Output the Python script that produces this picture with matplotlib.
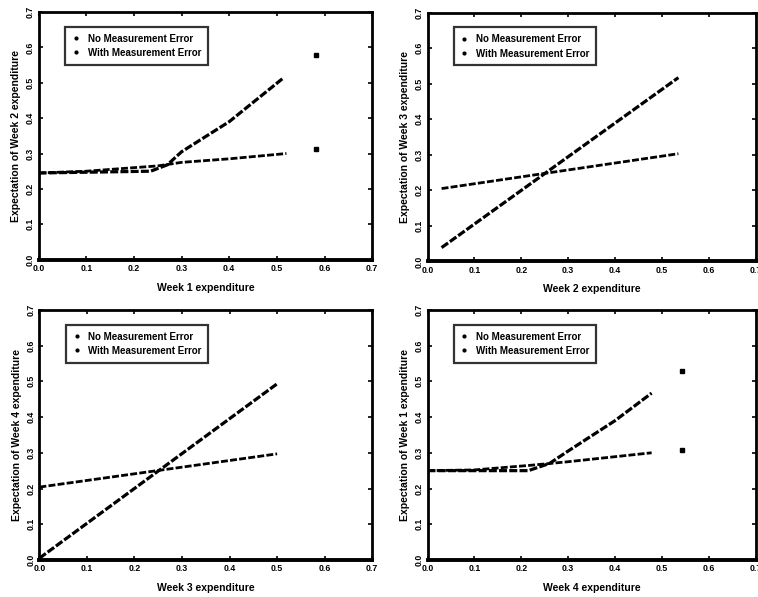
import matplotlib
matplotlib.use("Agg")
import matplotlib.pyplot as plt
from matplotlib.lines import Line2D

plt.rcParams["font.family"] = ["Liberation Sans", "DejaVu Sans"]
plt.rcParams["font.weight"] = "bold"

# Panel 1: week 1 -> week 2
p1_flat_x = [0.0, 0.10, 0.25, 0.30, 0.40, 0.52]
p1_flat_y = [0.245, 0.25, 0.265, 0.275, 0.285, 0.30]
p1_steep_x = [0.0, 0.235, 0.27, 0.30, 0.40, 0.515]
p1_steep_y = [0.245, 0.25, 0.268, 0.305, 0.39, 0.515]
p1_extra_x = [0.583, 0.583]
p1_extra_y = [0.579, 0.313]

# Panel 2: week 2 -> week 3
p2_flat_x = [0.03, 0.535]
p2_flat_y = [0.205, 0.303]
p2_steep_x = [0.03, 0.535]
p2_steep_y = [0.039, 0.517]

# Panel 3: week 3 -> week 4
p3_flat_x = [0.0, 0.50]
p3_flat_y = [0.204, 0.297]
p3_steep_x = [0.0, 0.50]
p3_steep_y = [0.005, 0.493]

# Panel 4: week 4 -> week 1
p4_flat_x = [0.0, 0.10, 0.22, 0.30, 0.478]
p4_flat_y = [0.25, 0.252, 0.265, 0.275, 0.30]
p4_steep_x = [0.0, 0.215, 0.26, 0.30, 0.40, 0.478]
p4_steep_y = [0.25, 0.25, 0.27, 0.305, 0.39, 0.467]
p4_extra_x = [0.543, 0.543]
p4_extra_y = [0.528, 0.308]

ticks = [0.0, 0.1, 0.2, 0.3, 0.4, 0.5, 0.6, 0.7]
tick_labels = ["0.0", "0.1", "0.2", "0.3", "0.4", "0.5", "0.6", "0.7"]
legend_labels = ["No Measurement Error", "With Measurement Error"]

panels = [
    ([0.051, 0.565, 0.440, 0.415], p1_flat_x, p1_flat_y, p1_steep_x, p1_steep_y,
     (p1_extra_x, p1_extra_y), "Week 1 expenditure", "Expectation of Week 2 expenditure"),
    ([0.564, 0.562, 0.433, 0.417], p2_flat_x, p2_flat_y, p2_steep_x, p2_steep_y,
     None, "Week 2 expenditure", "Expectation of Week 3 expenditure"),
    ([0.052, 0.062, 0.439, 0.419], p3_flat_x, p3_flat_y, p3_steep_x, p3_steep_y,
     None, "Week 3 expenditure", "Expectation of Week 4 expenditure"),
    ([0.564, 0.062, 0.433, 0.419], p4_flat_x, p4_flat_y, p4_steep_x, p4_steep_y,
     (p4_extra_x, p4_extra_y), "Week 4 expenditure", "Expectation of Week 1 expenditure"),
]

fig = plt.figure(figsize=(7.58, 5.97), dpi=100)

for rect, fx, fy, sx, sy, extra, xlab, ylab in panels:
    ax = fig.add_axes(rect)
    ax.plot(fx, fy, color="black", lw=2.0, linestyle=(0, (2.5, 0.8)))
    ax.plot(sx, sy, color="black", lw=2.3, linestyle=(0, (2.5, 0.7)))
    if extra is not None:
        ax.plot(extra[0], extra[1], "s", color="black", ms=2.2, linestyle="none")
    ax.set_xlim(0, 0.7)
    ax.set_ylim(0, 0.7)
    ax.set_xticks(ticks)
    ax.set_yticks(ticks)
    ax.set_xticklabels(tick_labels, fontsize=6.3, fontweight="bold")
    ax.set_yticklabels(tick_labels, fontsize=6.3, fontweight="bold",
                       rotation=90, va="center")
    ax.tick_params(direction="in", length=3, width=1.2, top=True, right=True, pad=3)
    for side in ["left", "right", "top"]:
        ax.spines[side].set_linewidth(2.0)
    ax.spines["bottom"].set_linewidth(2.8)
    ax.set_xlabel(xlab, fontsize=7.5, fontweight="bold", labelpad=7)
    ax.set_ylabel(ylab, fontsize=7.5, fontweight="bold", labelpad=3)
    handles = [Line2D([], [], color="black", marker=".", ms=4, linestyle="none"),
               Line2D([], [], color="black", marker=".", ms=4, linestyle="none")]
    leg = ax.legend(handles, legend_labels, loc="upper left",
                    bbox_to_anchor=(0.065, 0.96), fontsize=7, frameon=True,
                    fancybox=False, edgecolor="black", handlelength=0.8,
                    handletextpad=0.8, borderpad=0.7, labelspacing=0.45)
    leg.get_frame().set_linewidth(1.6)
    for t in leg.get_texts():
        t.set_fontweight("bold")

fig.savefig("out.png", dpi=100)
plt.close(fig)
